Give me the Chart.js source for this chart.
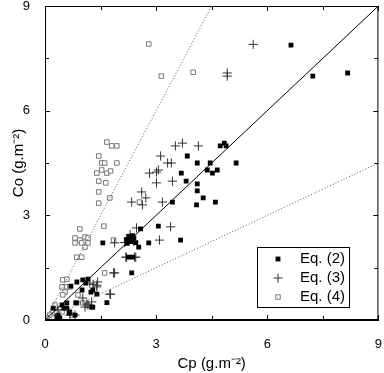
<!DOCTYPE html>
<html>
<head>
<meta charset="utf-8">
<script src="https://cdn.jsdelivr.net/npm/chart.js@4.4.0/dist/chart.umd.min.js"></script>
<style>
  html, body { margin: 0; padding: 0; background: #fff; }
  #wrap { width: 384px; height: 373px; }
</style>
</head>
<body>
<div id="wrap"><canvas id="chart" width="384" height="373"></canvas></div>
<script>
// Axis ticks (labelled every 3, minor every 1.5)
const tickValues = [0, 1.5, 3, 4.5, 6, 7.5, 9];

// Eq. (2) - filled squares [Cp, Co]
const eq2 = [
  [6.64, 7.88], [7.23, 6.99], [8.17, 7.08],
  [4.73, 4.99], [4.84, 5.07], [4.89, 4.99], [4.11, 4.50], [4.46, 4.50], [5.16, 4.50],
  [4.38, 4.30], [4.52, 4.21], [4.65, 4.30], [4.11, 3.90], [4.11, 3.70], [4.27, 3.50],
  [4.60, 3.38], [4.09, 3.30], [3.84, 4.70], [3.68, 4.21], [3.81, 3.98], [3.44, 3.38],
  [3.06, 2.69], [2.58, 2.61], [3.66, 2.29], [2.80, 2.21], [2.53, 2.09],
  [2.20, 2.30], [2.26, 2.38], [2.33, 2.25], [2.40, 2.35], [2.22, 2.20], [2.36, 2.42], [2.45, 2.22],
  [2.26, 1.80], [2.37, 1.80], [2.34, 1.35], [1.56, 2.21], [1.67, 0.50],
  [0.86, 1.09], [1.02, 1.15], [1.16, 1.17], [1.10, 1.06], [1.00, 0.86], [1.24, 0.80],
  [1.29, 0.86], [1.40, 0.74], [0.70, 0.97], [1.29, 0.37], [1.26, 0.37], [0.86, 0.49],
  [0.59, 0.49], [0.83, 0.49], [0.46, 0.43], [0.59, 0.34], [0.51, 0.34], [0.67, 0.23],
  [0.65, 0.20], [0.35, 0.14], [0.81, 0.14], [0.22, 0.34], [0.40, 0.06], [0.32, 0.09]
];

// Eq. (3) - plus signs [Cp, Co]
const eq3 = [
  [5.62, 7.90], [4.92, 7.08], [4.92, 6.99], [4.14, 4.99],
  [3.52, 4.99], [3.71, 5.07], [3.12, 4.70], [3.31, 4.50], [3.41, 4.50],
  [2.82, 4.21], [3.01, 4.24], [3.06, 4.30], [3.01, 3.93], [3.44, 3.98],
  [2.61, 3.67], [2.34, 3.38], [2.72, 3.50], [2.63, 3.30], [3.17, 3.38],
  [3.39, 2.67], [3.09, 2.29], [2.47, 2.64], [1.88, 2.21], [1.88, 1.35],
  [2.20, 1.80], [2.42, 1.80], [2.18, 1.80], [2.45, 1.80], [1.75, 0.74],
  [2.25, 2.35], [2.40, 2.25], [2.15, 2.22], [2.30, 2.45],
  [1.85, 1.35], [1.77, 0.74], [1.40, 1.00], [1.13, 0.46], [1.26, 0.52],
  [1.16, 0.43], [1.08, 0.37], [1.40, 0.95], [1.42, 1.09], [1.21, 1.06],
  [1.02, 0.63], [0.35, 0.29], [0.67, 0.14], [0.81, 0.14], [1.30, 1.02]
];

// Eq. (4) - open squares [Cp, Co]
const eq4 = [
  [2.80, 7.91], [3.14, 6.99], [4.00, 7.10],
  [1.67, 5.10], [1.80, 4.99], [1.94, 4.99], [1.45, 4.70], [1.53, 4.50], [1.61, 4.50],
  [1.94, 4.50], [1.53, 4.30], [1.67, 4.21], [1.77, 4.27], [1.40, 4.21], [1.45, 3.98],
  [1.64, 3.93], [1.45, 3.67], [1.45, 3.35], [1.75, 3.50], [1.59, 2.69], [2.55, 3.38],
  [0.94, 2.61], [0.81, 2.35], [0.94, 2.29], [1.08, 2.38], [1.16, 2.35], [0.81, 2.21],
  [0.99, 2.21], [1.16, 2.21], [1.08, 2.09], [0.86, 1.80], [0.99, 1.80], [1.61, 1.35],
  [1.85, 2.29], [0.48, 1.15], [0.59, 1.17], [0.46, 0.95], [0.59, 0.95], [0.67, 0.95],
  [0.54, 0.80], [0.48, 0.72], [0.89, 0.72], [1.13, 0.43], [1.02, 0.49], [0.27, 0.43],
  [0.22, 0.23], [0.13, 0.14], [0.32, 0.20], [0.46, 0.23], [0.73, 0.14], [0.05, 0.06]
];

// Reference lines: 1:1, 2:1 and 1:2
const lineOne = [[0, 0], [9, 9]];
const lineTwo = [[0, 0], [4.5, 9]];
const lineHalf = [[0, 0], [9, 4.5]];

const toXY = arr => arr.map(p => ({ x: p[0], y: p[1] }));
const FONT = '"Liberation Sans", Arial, sans-serif';

const scatterSets = [
  { label: 'Eq. (2)', data: toXY(eq2), pointStyle: 'rect', pointRadius: 3.4,
    backgroundColor: '#000', borderColor: '#000', borderWidth: 0 },
  { label: 'Eq. (3)', data: toXY(eq3), pointStyle: 'cross', pointRadius: 4.6,
    backgroundColor: '#333', borderColor: '#333', borderWidth: 1 },
  { label: 'Eq. (4)', data: toXY(eq4), pointStyle: 'rect', pointRadius: 3.2,
    backgroundColor: '#fff', borderColor: '#777', borderWidth: 1 }
];

const lineSets = [
  { label: 'one', data: toXY(lineOne), showLine: true, pointRadius: 0,
    borderColor: '#000', borderWidth: 1 },
  { label: 'two', data: toXY(lineTwo), showLine: true, pointRadius: 0,
    borderColor: '#555', borderWidth: 1, borderDash: [1, 2] },
  { label: 'half', data: toXY(lineHalf), showLine: true, pointRadius: 0,
    borderColor: '#555', borderWidth: 1, borderDash: [1, 2] }
];

// Inward ticks on all four sides, plus frame
const frameTicks = {
  id: 'frameTicks',
  afterDraw(chart) {
    const { ctx, chartArea: a, scales: { x, y } } = chart;
    ctx.save();
    ctx.strokeStyle = '#000';
    ctx.lineWidth = 1;
    ctx.strokeRect(a.left + 0.5, a.top + 0.5, a.right - a.left - 1, a.bottom - a.top - 1);
    ctx.beginPath();
    tickValues.forEach(v => {
      const len = v % 3 === 0 ? 5 : 4;
      const px = Math.round(x.getPixelForValue(v)) + 0.5;
      ctx.moveTo(px, a.bottom); ctx.lineTo(px, a.bottom - len);
      ctx.moveTo(px, a.top); ctx.lineTo(px, a.top + len);
      const py = Math.round(y.getPixelForValue(v)) + 0.5;
      ctx.moveTo(a.left, py); ctx.lineTo(a.left + len, py);
      ctx.moveTo(a.right, py); ctx.lineTo(a.right - len, py);
    });
    ctx.stroke();
    ctx.restore();
  }
};

// Legend box inside the plot
const boxLegend = {
  id: 'boxLegend',
  afterDraw(chart) {
    const { ctx } = chart;
    const bx = 257, by = 247, bw = 92, bh = 60;
    ctx.save();
    ctx.fillStyle = '#fff';
    ctx.fillRect(bx, by, bw, bh);
    ctx.strokeStyle = '#000';
    ctx.lineWidth = 1;
    ctx.strokeRect(bx + 0.5, by + 0.5, bw, bh);
    ctx.font = '15px ' + FONT;
    ctx.textBaseline = 'middle';
    ctx.textAlign = 'left';
    scatterSets.forEach((ds, i) => {
      const cy = by + 12 + i * 19;
      ctx.fillStyle = ds.backgroundColor;
      ctx.strokeStyle = ds.borderColor;
      ctx.lineWidth = ds.borderWidth || 1;
      Chart.helpers.drawPoint(ctx, {
        pointStyle: ds.pointStyle, radius: ds.pointRadius, rotation: 0,
        borderWidth: ds.borderWidth
      }, 278, cy);
      ctx.fillStyle = '#000';
      ctx.fillText(ds.label, 300, cy);
    });
    ctx.restore();
  }
};

new Chart(document.getElementById('chart'), {
  type: 'scatter',
  data: { datasets: [...lineSets, ...scatterSets] },
  options: {
    responsive: false,
    animation: false,
    layout: { padding: { top: 6, right: 4, left: 0, bottom: 0 } },
    plugins: { legend: { display: false }, tooltip: { enabled: false } },
    scales: {
      x: {
        type: 'linear', min: 0, max: 9,
        afterFit: s => { s.height = 53; s.paddingLeft = 0; s.paddingRight = 0; },
        afterBuildTicks: s => { s.ticks = tickValues.map(v => ({ value: v })); },
        grid: { display: false },
        border: { display: true, color: '#000' },
        ticks: {
          padding: 9, color: '#000', font: { family: FONT, size: 13 },
          maxRotation: 0, autoSkip: false,
          callback: v => (v % 3 === 0 ? v : '')
        },
        title: { display: true, text: 'Cp (g.m⁻²)', color: '#000',
          font: { family: FONT, size: 15 }, padding: { top: 6, bottom: 0 } }
      },
      y: {
        type: 'linear', min: 0, max: 9,
        afterFit: s => { s.width = 45; s.paddingTop = 0; s.paddingBottom = 0; },
        afterBuildTicks: s => { s.ticks = tickValues.map(v => ({ value: v })); },
        grid: { display: false },
        border: { display: true, color: '#000' },
        ticks: {
          padding: 7, color: '#000', font: { family: FONT, size: 13 },
          autoSkip: false,
          callback: v => (v % 3 === 0 ? v : '')
        },
        title: { display: true, text: 'Co (g.m⁻²)', color: '#000',
          font: { family: FONT, size: 15 }, padding: { top: 10, bottom: 4 } }
      }
    }
  },
  plugins: [frameTicks, boxLegend]
});
</script>
</body>
</html>
